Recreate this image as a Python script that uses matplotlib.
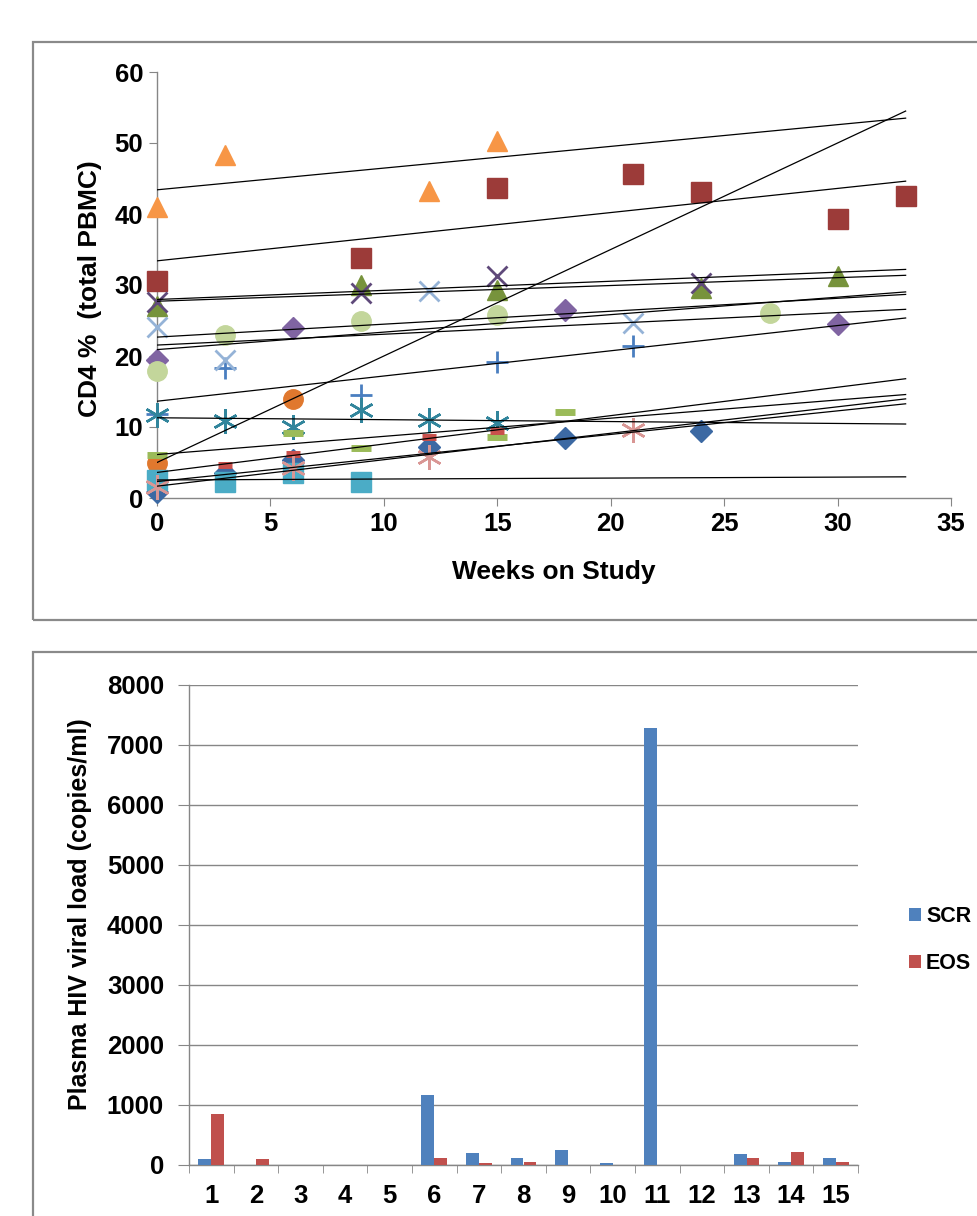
import numpy as np
import matplotlib
matplotlib.use("Agg")
import matplotlib.pyplot as plt
from matplotlib.patches import Rectangle

plt.rcParams['font.family'] = ['Liberation Sans', 'DejaVu Sans']
plt.rcParams['font.weight'] = 'bold'

# CD4 % per patient (weeks on study, value)
wk_p1 = [0, 3, 6, 12, 18, 24]
cd4_p1 = [0.9, 3.5, 5.3, 7.2, 8.5, 9.4]
wk_p2 = [0, 9, 15, 21, 24, 30, 33]
cd4_p2 = [30.6, 33.8, 43.7, 45.7, 43.1, 39.3, 42.5]
wk_p3 = [0, 9, 15, 24, 30]
cd4_p3 = [27.0, 30.0, 29.3, 29.6, 31.3]
wk_p4 = [0, 9, 15, 24]
cd4_p4 = [27.6, 28.9, 31.2, 30.3]
wk_p5 = [0, 3, 9, 15, 21]
cd4_p5 = [11.8, 18.3, 14.5, 19.2, 21.4]
wk_p6 = [0, 3, 6, 9, 12, 15]
cd4_p6 = [11.7, 10.9, 10.0, 12.4, 11.0, 10.6]
wk_p7 = [0, 6]
cd4_p7 = [5.0, 14.0]
wk_p8 = [0, 6, 18, 30]
cd4_p8 = [19.5, 23.9, 26.5, 24.5]
wk_p9 = [0, 3, 9, 15, 27]
cd4_p9 = [17.9, 23.0, 25.0, 25.8, 26.1]
wk_p10 = [0, 3, 12, 21]
cd4_p10 = [24.1, 19.4, 29.1, 24.6]
wk_p11 = [0, 6, 9, 15, 18]
cd4_p11 = [6.1, 9.1, 7.0, 8.6, 12.1]
wk_p12 = [3, 6, 12, 15]
cd4_p12 = [4.6, 6.2, 8.6, 9.4]
wk_p13 = [0, 3, 6, 9]
cd4_p13 = [2.5, 2.2, 3.5, 2.2]
wk_p14 = [0, 6, 12, 21]
cd4_p14 = [1.6, 4.2, 5.8, 9.6]
wk_p15 = [0, 3, 12, 15]
cd4_p15 = [41.0, 48.3, 43.2, 50.3]

# viral load per patient
patients = [str(i) for i in range(1, 16)]
scr = [95, 0, 0, 0, 0, 1160, 200, 115, 245, 30, 7280, 0, 180, 50, 115]
eos = [845, 95, 0, 0, 0, 115, 35, 50, 0, 0, 0, 0, 115, 220, 50]

star = (6, 2, 0)
series = [
    (wk_p1, cd4_p1, 'D', '#3C69A3', 11, 1),
    (wk_p2, cd4_p2, 's', '#9C3B39', 14, 1),
    (wk_p3, cd4_p3, '^', '#77933C', 15, 1),
    (wk_p4, cd4_p4, 'x', '#5F497A', 15, 2.0),
    (wk_p5, cd4_p5, '+', '#4A7EC0', 16, 2.0),
    (wk_p6, cd4_p6, star, '#31859C', 18, 1.8),
    (wk_p7, cd4_p7, 'o', '#E0782E', 14, 1),
    (wk_p8, cd4_p8, 'D', '#8064A2', 11, 1),
    (wk_p9, cd4_p9, 'o', '#C3D69B', 14, 1),
    (wk_p10, cd4_p10, 'x', '#95B3D7', 15, 2.0),
    (wk_p11, cd4_p11, '_', '#9BBB59', 15, 5),
    (wk_p12, cd4_p12, '_', '#C9504C', 10, 5),
    (wk_p13, cd4_p13, 's', '#4BACC6', 14, 1),
    (wk_p14, cd4_p14, star, '#D99694', 18, 1.8),
    (wk_p15, cd4_p15, '^', '#F79646', 15, 1),
]

W, H = 978, 1216
fig = plt.figure(figsize=(W / 100, H / 100), dpi=100)
gray = '#868686'

# frames around the two charts
fig.add_artist(Rectangle((33 / W, 1 - 620 / H), 1.2, (620 - 42) / H, transform=fig.transFigure,
                         fill=False, edgecolor='#8a8a8a', lw=1.6))
fig.add_artist(Rectangle((33 / W, -0.2), 1.2, 0.2 + (1216 - 652) / H, transform=fig.transFigure,
                         fill=False, edgecolor='#8a8a8a', lw=1.6))

# ---- top chart
ax = fig.add_axes([157 / W, 1 - 498 / H, (951 - 157) / W, (498 - 72) / H])
for wk, val, mk, col, ms, mew in series:
    if mk in ('x', '+', '_') or mk == star:
        ax.plot(wk, val, linestyle='none', marker=mk, color=col, ms=ms, mew=mew, clip_on=False, zorder=3)
    else:
        ax.plot(wk, val, linestyle='none', marker=mk, color=col, mfc=col, mec=col, ms=ms, mew=mew,
                clip_on=False, zorder=3)
xx = np.array([0, 33])
for wk, val, *_ in series:
    slope, icpt = np.polyfit(wk, val, 1)
    ax.plot(xx, icpt + slope * xx, color='black', lw=0.9, zorder=4)

ax.set_xlim(0, 35)
ax.set_ylim(0, 60)
ax.set_xticks(range(0, 36, 5))
ax.set_yticks(range(0, 61, 10))
for s in ['top', 'right']:
    ax.spines[s].set_visible(False)
for s in ['left', 'bottom']:
    ax.spines[s].set_color(gray)
    ax.spines[s].set_linewidth(1)
ax.tick_params(direction='out', length=6, color=gray, labelsize=18.5, pad=4)
fig.text(554 / W, 1 - 572 / H, 'Weeks on Study', ha='center', va='center', fontsize=19, fontweight='bold')
fig.text(90 / W, 1 - 289 / H, 'CD4 %  (total PBMC)', ha='center', va='center', rotation=90,
         fontsize=19, fontweight='bold')

# ---- bottom chart
ax2 = fig.add_axes([189 / W, 1 - 1165 / H, (858 - 189) / W, (1165 - 685) / H])
pos = np.arange(1, 16)
bw = 0.29
ax2.bar(pos - bw / 2, scr, width=bw, color='#4F81BD', label='SCR', zorder=3)
ax2.bar(pos + bw / 2, eos, width=bw, color='#C0504D', label='EOS', zorder=3)
ax2.set_xlim(0.5, 15.5)
ax2.set_ylim(0, 8000)
ax2.set_yticks(range(0, 8001, 1000))
ax2.set_xticks(pos)
ax2.set_xticklabels(patients)
ax2.set_xticks(np.arange(0.5, 16, 1), minor=True)
ax2.tick_params(axis='x', which='major', length=0, labelsize=18.5, pad=14)
ax2.tick_params(axis='x', which='minor', direction='out', length=6, color=gray)
ax2.tick_params(axis='y', direction='out', length=8, color=gray, labelsize=18.5, pad=10)
ax2.yaxis.grid(True, color=gray, lw=1, zorder=0)
for s in ['top', 'right']:
    ax2.spines[s].set_visible(False)
for s in ['left', 'bottom']:
    ax2.spines[s].set_color(gray)
    ax2.spines[s].set_linewidth(1)
fig.text(80 / W, 1 - 914 / H, 'Plasma HIV viral load (copies/ml)', ha='center', va='center',
         rotation=90, fontsize=18, fontweight='bold')
ax2.legend(loc='center left', bbox_to_anchor=(898 / W, 1 - 940 / H), bbox_transform=fig.transFigure,
           frameon=False, fontsize=15.5, handlelength=0.55, handleheight=0.55, handletextpad=0.25,
           labelspacing=1.2, borderpad=0)

fig.savefig('out.png', dpi=100)
